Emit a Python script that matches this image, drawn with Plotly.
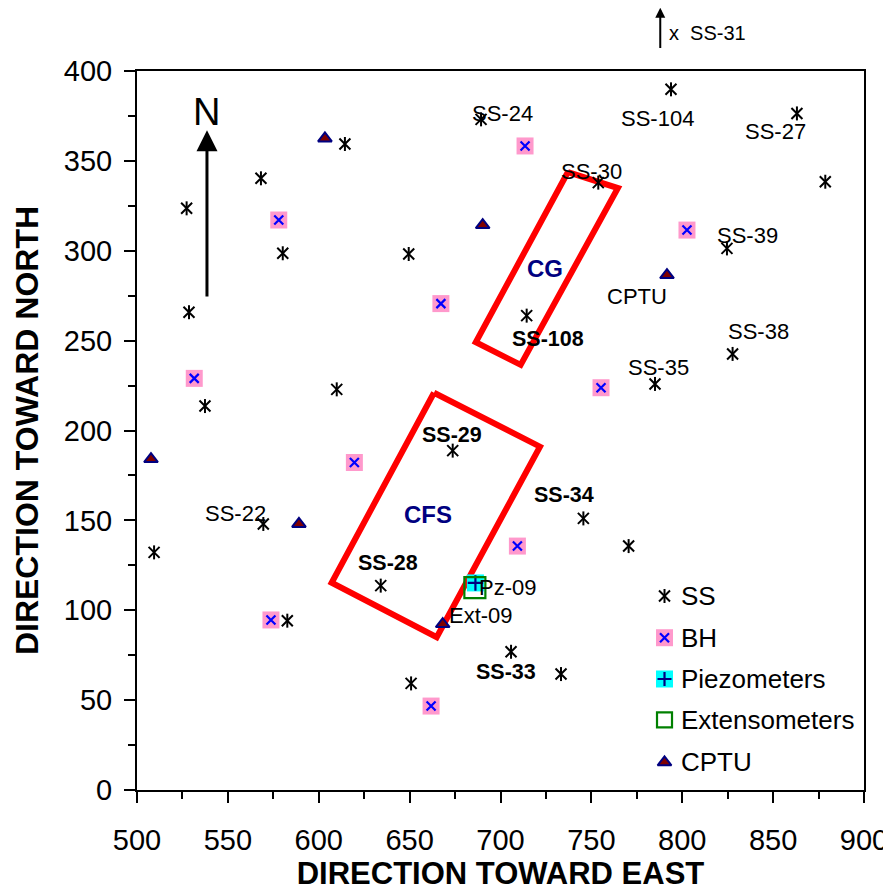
import plotly.graph_objects as go

# ---------------- data ----------------
ss_x = [527.3, 568.2, 580.2, 614.4, 689.3, 649.5, 753.8, 793.8, 863.1, 878.7, 824.6,
        714.4, 609.9, 673.7, 745.6, 634.1, 785.0, 827.7, 770.5, 528.6, 537.4, 509.4,
        569.5, 582.7, 650.8, 705.8, 733.3]
ss_y = [323.6, 340.3, 298.6, 359.4, 373.1, 298.2, 337.9, 389.8, 376.4, 338.4, 301.3,
        263.9, 222.9, 188.8, 151.1, 113.7, 225.9, 242.6, 135.7, 265.8, 213.6, 132.2,
        148.0, 94.2, 59.3, 76.9, 64.5]

bh_x = [578.0, 713.5, 667.2, 802.6, 531.5, 619.6, 755.3, 709.3, 573.7, 661.8]
bh_y = [317.1, 358.3, 270.6, 311.5, 229.0, 182.2, 223.8, 135.7, 94.6, 46.7]

pz_x = [686.2]
pz_y = [115.2]

ext_x = [685.9]
ext_y = [112.6]

cptu_x = [603.4, 690.2, 791.6, 507.7, 589.1, 668.2]
cptu_y = [362.5, 314.3, 286.5, 184.1, 148.0, 92.3]

# zones (closed polygons)
cg_x = [737.1, 764.6, 711.1, 686.4, 737.1]
cg_y = [343.8, 334.9, 236.5, 249.1, 343.8]
cfs_x = [663.4, 721.7, 664.9, 607.1, 663.4]
cfs_y = [221.0, 191.0, 85.0, 115.3, 221.0]

# point labels
lab_text = ["SS-24", "SS-30", "SS-104", "SS-27", "SS-39", "CPTU", "SS-38", "SS-35",
            "SS-22", "Pz-09", "Ext-09"]
lab_x = [700.9, 750.2, 786.5, 851.3, 836.1, 775.1, 841.8, 786.8, 554.4, 703.8, 689.4]
lab_y = [376.1, 344.0, 373.3, 366.6, 308.4, 274.8, 255.0, 234.9, 153.9, 112.9, 97.0]

bold_text = ["SS-108", "SS-29", "SS-34", "SS-28", "SS-33"]
bold_x = [726.0, 673.4, 735.0, 638.2, 702.9]
bold_y = [250.7, 197.5, 164.1, 126.1, 65.8]

zone_text = ["CG", "CFS"]
zone_x = [724.5, 659.9]
zone_y = [290.2, 153.5]

legend_names = ["SS", "BH", "Piezometers", "Extensometers", "CPTU"]

x_ticks = [500, 550, 600, 650, 700, 750, 800, 850, 900]
y_ticks = [0, 50, 100, 150, 200, 250, 300, 350, 400]

# ---------------- styles ----------------
FONT = "Liberation Sans, Arial, sans-serif"
PINK = "#FF99CC"
BLUE = "#0000FF"
CYAN = "#00FFFF"
GREEN = "#008000"
NAVY = "#000080"
DRED = "#800000"
RED = "#FF0000"

fig = go.Figure()


def mk(fig, x, y, xa, ya, **marker):
    fig.add_trace(go.Scatter(x=x, y=y, mode="markers", xaxis=xa, yaxis=ya, showlegend=False,
                             hoverinfo="skip", marker=marker))


def add_ss(fig, x, y, xa="x", ya="y"):
    mk(fig, x, y, xa, ya, symbol="x-thin-open", size=11, color="black",
       line=dict(color="black", width=2))
    mk(fig, x, y, xa, ya, symbol="line-ns-open", size=10, color="black",
       line=dict(color="black", width=2))


def add_bh(fig, x, y, xa="x", ya="y"):
    mk(fig, x, y, xa, ya, symbol="square", size=17, color=PINK, line=dict(width=0))
    mk(fig, x, y, xa, ya, symbol="x-thin-open", size=9, color=BLUE,
       line=dict(color=BLUE, width=2.2))


def add_pz(fig, x, y, xa="x", ya="y", cross=11):
    mk(fig, x, y, xa, ya, symbol="square", size=17, color=CYAN, line=dict(width=0))
    mk(fig, x, y, xa, ya, symbol="cross-thin-open", size=cross, color=NAVY,
       line=dict(color=NAVY, width=2.2))


def add_ext(fig, x, y, xa="x", ya="y", size=21):
    mk(fig, x, y, xa, ya, symbol="square-open", size=size, color=GREEN,
       line=dict(color=GREEN, width=2.2))


def add_cptu(fig, x, y, xa="x", ya="y"):
    mk(fig, x, y, xa, ya, symbol="triangle-up", size=12, color=DRED,
       line=dict(color=NAVY, width=2))


# zone outlines
for px, py in [(cg_x, cg_y), (cfs_x, cfs_y)]:
    fig.add_trace(go.Scatter(x=px, y=py, mode="lines", showlegend=False, hoverinfo="skip",
                             line=dict(color=RED, width=6)))

add_ss(fig, ss_x, ss_y)
add_bh(fig, bh_x, bh_y)
add_pz(fig, pz_x, pz_y)
add_ext(fig, ext_x, ext_y)
add_cptu(fig, cptu_x, cptu_y)

# ---------------- custom legend (overlay axes in plot-area fraction) ----------------
LEG_MX = 0.7256
LEG_TX = 0.7455
LEG_ROWS = [0.2698, 0.2118, 0.1544, 0.0974, 0.0385]
add_ss(fig, [LEG_MX], [LEG_ROWS[0]], "x2", "y2")
add_bh(fig, [LEG_MX], [LEG_ROWS[1]], "x2", "y2")
add_pz(fig, [LEG_MX], [LEG_ROWS[2]], "x2", "y2", cross=10)
add_ext(fig, [LEG_MX], [LEG_ROWS[3]], "x2", "y2", size=15)
add_cptu(fig, [LEG_MX], [LEG_ROWS[4]], "x2", "y2")

annotations = []
for name, ry in zip(legend_names, LEG_ROWS):
    annotations.append(dict(x=LEG_TX, y=ry, xref="x2", yref="y2", text=name, showarrow=False,
                            xanchor="left", yanchor="middle",
                            font=dict(family=FONT, size=26, color="black")))

for t, x, y in zip(lab_text, lab_x, lab_y):
    annotations.append(dict(x=x, y=y, text=t, showarrow=False, xanchor="center",
                            yanchor="middle", font=dict(family=FONT, size=22, color="black")))
for t, x, y in zip(bold_text, bold_x, bold_y):
    annotations.append(dict(x=x, y=y, text="<b>" + t + "</b>", showarrow=False,
                            xanchor="center", yanchor="middle",
                            font=dict(family=FONT, size=21.5, color="black")))
for t, x, y in zip(zone_text, zone_x, zone_y):
    annotations.append(dict(x=x, y=y, text="<b>" + t + "</b>", showarrow=False,
                            xanchor="center", yanchor="middle",
                            font=dict(family=FONT, size=24, color=NAVY)))

# North arrow
annotations.append(dict(x=538.5, y=367.0, ax=538.5, ay=273.7, xref="x", yref="y",
                        axref="x", ayref="y", text="", showarrow=True, arrowhead=2,
                        arrowsize=1.4, arrowwidth=3, arrowcolor="black"))
annotations.append(dict(x=538.5, y=377.2, text="N", showarrow=False, xanchor="center",
                        yanchor="middle", font=dict(family=FONT, size=38, color="black")))

# SS-31 (outside the plot, to the north)
annotations.append(dict(x=787.9, y=1.088, ax=787.9, ay=1.030, xref="x", yref="y domain",
                        axref="x", ayref="y domain", text="", showarrow=True, arrowhead=2,
                        arrowsize=1.0, arrowwidth=2, arrowcolor="black"))
annotations.append(dict(x=791.5, y=1.053, xref="x", yref="y domain", text="x&nbsp;&nbsp;SS-31",
                        showarrow=False, xanchor="left", yanchor="middle",
                        font=dict(family=FONT, size=20, color="black")))

axis_common = dict(
    showgrid=False, zeroline=False, showline=True, linecolor="black", linewidth=2,
    mirror=True, ticks="outside", ticklen=11, tickwidth=2, tickcolor="black",
    tickfont=dict(family=FONT, size=29, color="black"), automargin=False,
    minor=dict(ticks="outside", ticklen=7, tickwidth=2, tickcolor="black"),
)

fig.update_layout(
    width=891, height=890,
    margin=dict(l=129, r=35, t=63, b=108),
    paper_bgcolor="white", plot_bgcolor="white",
    showlegend=False,
    annotations=annotations,
    xaxis=dict(range=[500, 900], tickvals=x_ticks, ticktext=[str(v) for v in x_ticks],
               minor_dtick=25, minor_tick0=500, ticklabelstandoff=12,
               title=dict(text="<b>DIRECTION TOWARD EAST</b>", standoff=5,
                          font=dict(family=FONT, size=31, color="black")),
               **axis_common),
    yaxis=dict(range=[0, 400], tickvals=y_ticks, ticktext=[str(v) for v in y_ticks],
               minor_dtick=25, minor_tick0=0, ticklabelstandoff=6,
               title=dict(text="<b>DIRECTION TOWARD NORTH</b>", standoff=16,
                          font=dict(family=FONT, size=32, color="black")),
               **axis_common),
    xaxis2=dict(overlaying="x", range=[0, 1], visible=False, fixedrange=True),
    yaxis2=dict(overlaying="y", range=[0, 1], visible=False, fixedrange=True),
)

fig.write_html("out.html")
